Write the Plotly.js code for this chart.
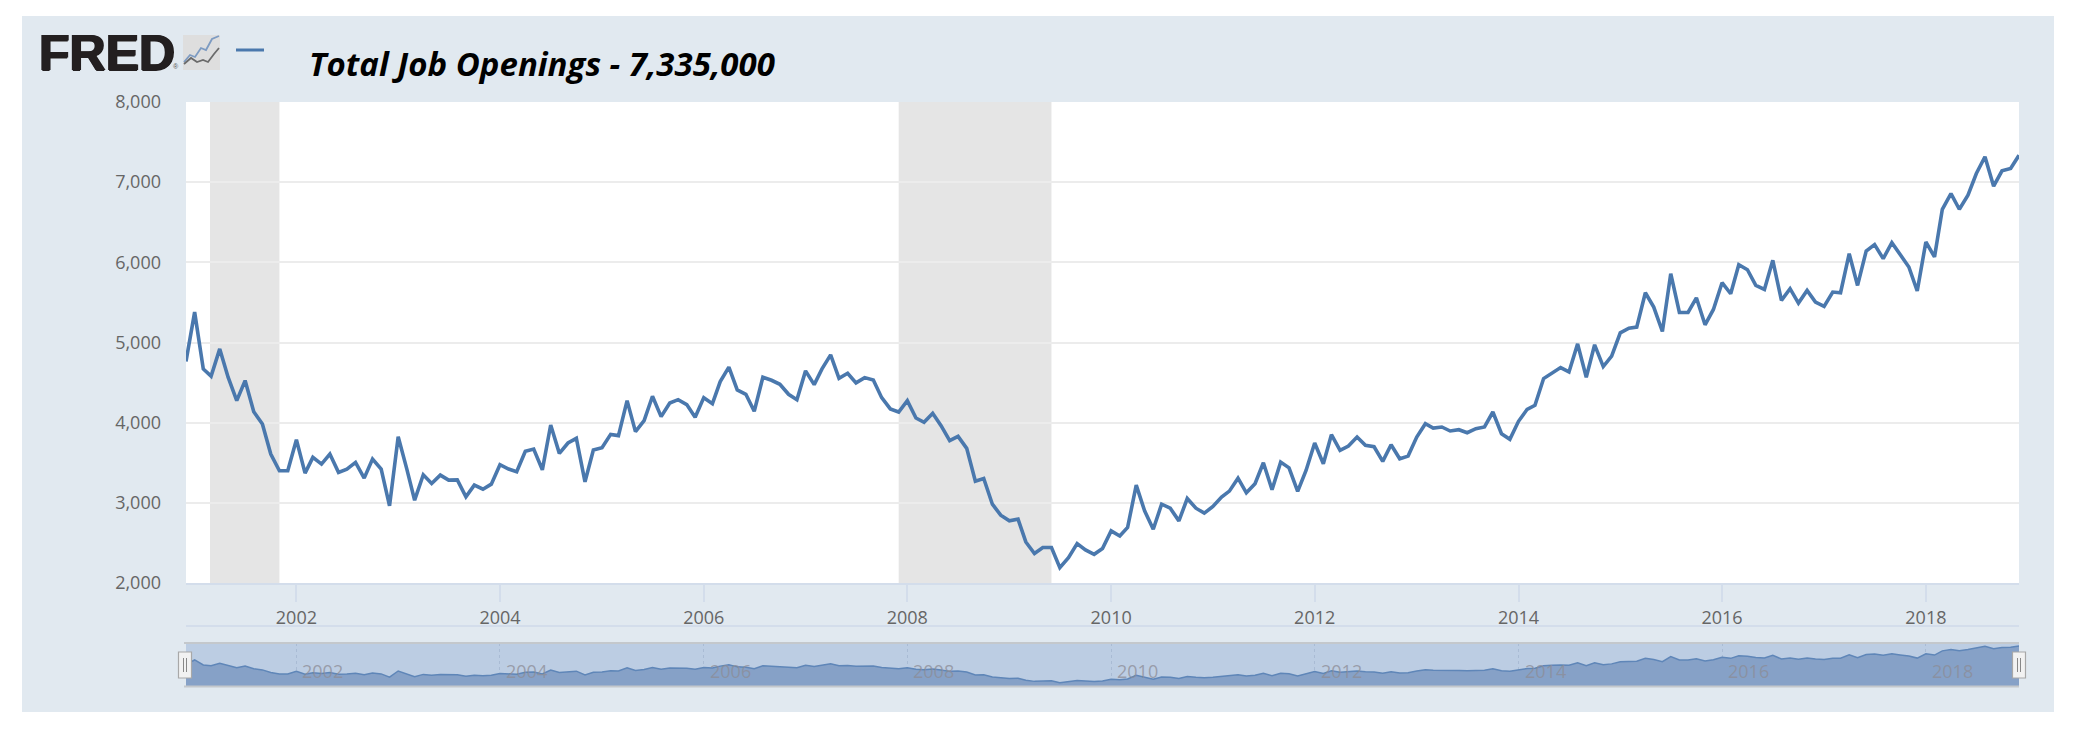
<!DOCTYPE html>
<html>
<head>
<meta charset="utf-8">
<script src="https://cdn.plot.ly/plotly-3.0.1.min.js"></script>
<style>
html,body{margin:0;padding:0;background:#fff;}
#chart{position:absolute;left:22px;top:16px;width:2032px;height:696px;}
</style>
</head>
<body>
<div id="chart"></div>
<script>
const chartTitle = "Total Job Openings - 7,335,000";
const seriesStart = [2000, 12];
const openings = [
4763,5379,4670,4580,4920,4567,4275,4525,4137,3983,3608,3400,3400,3787,3370,3567,3483,3608,3380,3420,
3504,3308,3546,3420,2962,3825,3420,3033,3350,3242,3346,3283,3287,3075,3221,3170,3233,3475,3421,3387,
3642,3671,3412,3971,3617,3746,3804,3262,3658,3687,3854,3838,4275,3888,4025,4329,4075,4246,4287,4225,
4067,4312,4237,4512,4692,4408,4354,4142,4567,4529,4479,4354,4287,4646,4475,4671,4846,4554,4617,4496,
4562,4533,4312,4171,4133,4275,4058,4004,4117,3962,3775,3829,3679,3271,3304,2983,2846,2775,2796,2512,
2367,2442,2442,2192,2317,2492,2412,2358,2429,2650,2587,2692,3221,2900,2671,2983,2933,2775,3054,2933,
2871,2954,3071,3146,3308,3125,3238,3500,3163,3508,3437,3142,3404,3746,3487,3850,3654,3708,3821,3717,
3700,3517,3725,3550,3583,3821,3987,3933,3946,3896,3912,3875,3925,3946,4133,3862,3792,4017,4167,4217,
4550,4621,4687,4633,4983,4567,4971,4700,4829,5121,5179,5192,5621,5442,5137,5858,5375,5375,5558,5221,
5412,5746,5608,5971,5908,5712,5662,6025,5525,5671,5492,5650,5504,5450,5629,5621,6108,5712,6142,6221,
6046,6246,6087,5942,5642,6254,6067,6662,6858,6662,6837,7108,7317,6950,7142,7171,7335
];
const recessionStart = ["2001-02-25","2007-12-01"];
const recessionEnd   = ["2001-11-01","2009-06-01"];
const yearLabels = ["2002","2004","2006","2008","2010","2012","2014","2016","2018"];
const yTicks = [2000,3000,4000,5000,6000,7000,8000];

const dates = openings.map((_, i) => {
  const m = seriesStart[1] - 1 + i;
  const y = seriesStart[0] + Math.floor(m / 12);
  return y + "-" + String(m % 12 + 1).padStart(2, "0") + "-01";
});

/* page pixel -> paper fraction helpers for the decorative furniture */
const L = 186, R = 2019, T = 102, B = 686;
const px = x => (x - L) / (R - L);
const py = y => (B - y) / (B - T);
const BLUE = "#4a78ad", PANEL = "#e1e9f0", AXIS = "#d3ddeb";

function rect(x0, y0, x1, y1, fill, line, lw, layer) {
  return {type:"rect", xref:"paper", yref:"paper", x0:px(x0), x1:px(x1), y0:py(y0), y1:py(y1),
    fillcolor:fill, line:{color:line || "rgba(0,0,0,0)", width:lw || 0}, layer:layer || "above"};
}
function seg(x0, y0, x1, y1, color, w, layer) {
  return {type:"line", xref:"paper", yref:"paper", x0:px(x0), x1:px(x1), y0:py(y0), y1:py(y1),
    line:{color:color, width:w}, layer:layer || "above"};
}
function poly(pts, color, w) {
  const d = pts.map((p, i) => (i ? "L" : "M") + px(p[0]) + "," + py(p[1])).join(" ");
  return {type:"path", xref:"paper", yref:"paper", path:d, line:{color:color, width:w}, layer:"above"};
}

const shapes = [];
recessionStart.forEach((s, i) => shapes.push({type:"rect", xref:"x", yref:"y domain",
  x0:s, x1:recessionEnd[i], y0:0, y1:1, fillcolor:"#e5e5e5", line:{width:0}, layer:"below"}));
/* navigator background and frame */
shapes.push(rect(L, 643, R, 686, "#bccde3", null, 0, "below"));
shapes.push(seg(184, 643, R, 643, "#c4c8cc", 2));
shapes.push(seg(184, 686.5, R, 686.5, "#c4c8cc", 2));
/* line above navigator */
shapes.push(seg(L, 626, R, 626, AXIS, 2));
/* navigator handles */
[185, 2019].forEach(c => {
  shapes.push(rect(c - 6.5, 652, c + 6.5, 678, "#f2f2f2", "#a8a8a8", 1.2));
  shapes.push(seg(c - 1.5, 658, c - 1.5, 672, "#888", 1));
  shapes.push(seg(c + 1.5, 658, c + 1.5, 672, "#888", 1));
});
/* FRED icon and legend dash */
shapes.push(rect(183, 35, 220, 70, "#dedede"));
shapes.push(poly([[184,62],[190,55],[195,57],[201,48],[206,50],[212,39],[219,36]], "#7d9bc2", 1.8));
shapes.push(poly([[184,64],[191,58],[197,62],[203,60],[208,62],[214,54],[219,48]], "#6b6b6b", 1.8));
shapes.push(seg(236, 50, 264, 50, BLUE, 3));

const annotations = [
  {xref:"paper", yref:"paper", x:px(37), y:py(53), xanchor:"left", yanchor:"middle", showarrow:false,
   text:"<b>FRED</b>", font:{family:"Liberation Sans", size:50, color:"#231f20",
     shadow:"1px 0 0 #231f20, -1px 0 0 #231f20, 0 1px 0 #231f20"}},
  {xref:"paper", yref:"paper", x:px(171), y:py(67), xanchor:"left", yanchor:"middle", showarrow:false,
   text:"®", font:{family:"Liberation Sans", size:7, color:"#555"}}
];
yearLabels.forEach(y => annotations.push({xref:"x2", yref:"paper", x:y + "-01-01", xshift:4,
  y:py(671), xanchor:"left", yanchor:"middle", showarrow:false, text:y,
  font:{family:"Open Sans", size:18, color:"rgba(140,140,150,0.75)"}}));

const traces = [
  {x:dates, y:openings, xaxis:"x", yaxis:"y", type:"scatter", mode:"lines",
   line:{color:BLUE, width:3.6}, hoverinfo:"x+y", showlegend:false},
  {x:dates, y:openings, xaxis:"x2", yaxis:"y2", type:"scatter", mode:"lines", fill:"tozeroy",
   fillcolor:"#86a1c7", line:{color:"#5f86b8", width:1.5}, hoverinfo:"skip", showlegend:false}
];

const tickFont = {family:"Open Sans", size:18, color:"#666"};
const xRange = [dates[0], dates[dates.length - 1]];
const layout = {
  width:2032, height:696,
  margin:{l:L - 22, r:2054 - R, t:T - 16, b:712 - B, pad:0},
  paper_bgcolor:PANEL, plot_bgcolor:"#ffffff", showlegend:false,
  title:{text:chartTitle, xref:"container", yref:"container", x:(309 - 22) / 2032, y:1 - (64 - 16) / 696,
    xanchor:"left", yanchor:"middle",
    font:{family:"Open Sans", size:33, color:"#000", weight:"bold", style:"italic"}},
  xaxis:{domain:[0,1], anchor:"y", type:"date", range:xRange, tick0:"2002-01-01", dtick:"M24",
    tickformat:"%Y", ticks:"outside", ticklen:17, tickwidth:1.5, tickcolor:AXIS, showgrid:false,
    showline:true, linecolor:AXIS, linewidth:2, tickfont:tickFont, zeroline:false},
  yaxis:{domain:[(B - 583) / (B - T), 1], anchor:"x", range:[2000, 8000], tickvals:yTicks, tickformat:",d",
    ticks:"", gridcolor:"#ececec", gridwidth:1.5, showline:false, zeroline:false, tickfont:tickFont,
    ticklabelstandoff:24},
  xaxis2:{domain:[0,1], anchor:"y2", type:"date", range:xRange, tick0:"2002-01-01", dtick:"M24",
    showticklabels:false, ticks:"", showgrid:true, griddash:"dot", gridcolor:"#a9bbd4", gridwidth:1,
    showline:false, zeroline:false},
  yaxis2:{domain:[0, (B - 643) / (B - T)], anchor:"x2", range:[1716, 7767], showticklabels:false,
    ticks:"", showgrid:false, showline:false, zeroline:false},
  shapes:shapes, annotations:annotations
};
Plotly.newPlot("chart", traces, layout, {displayModeBar:false, responsive:false});
</script>
</body>
</html>
